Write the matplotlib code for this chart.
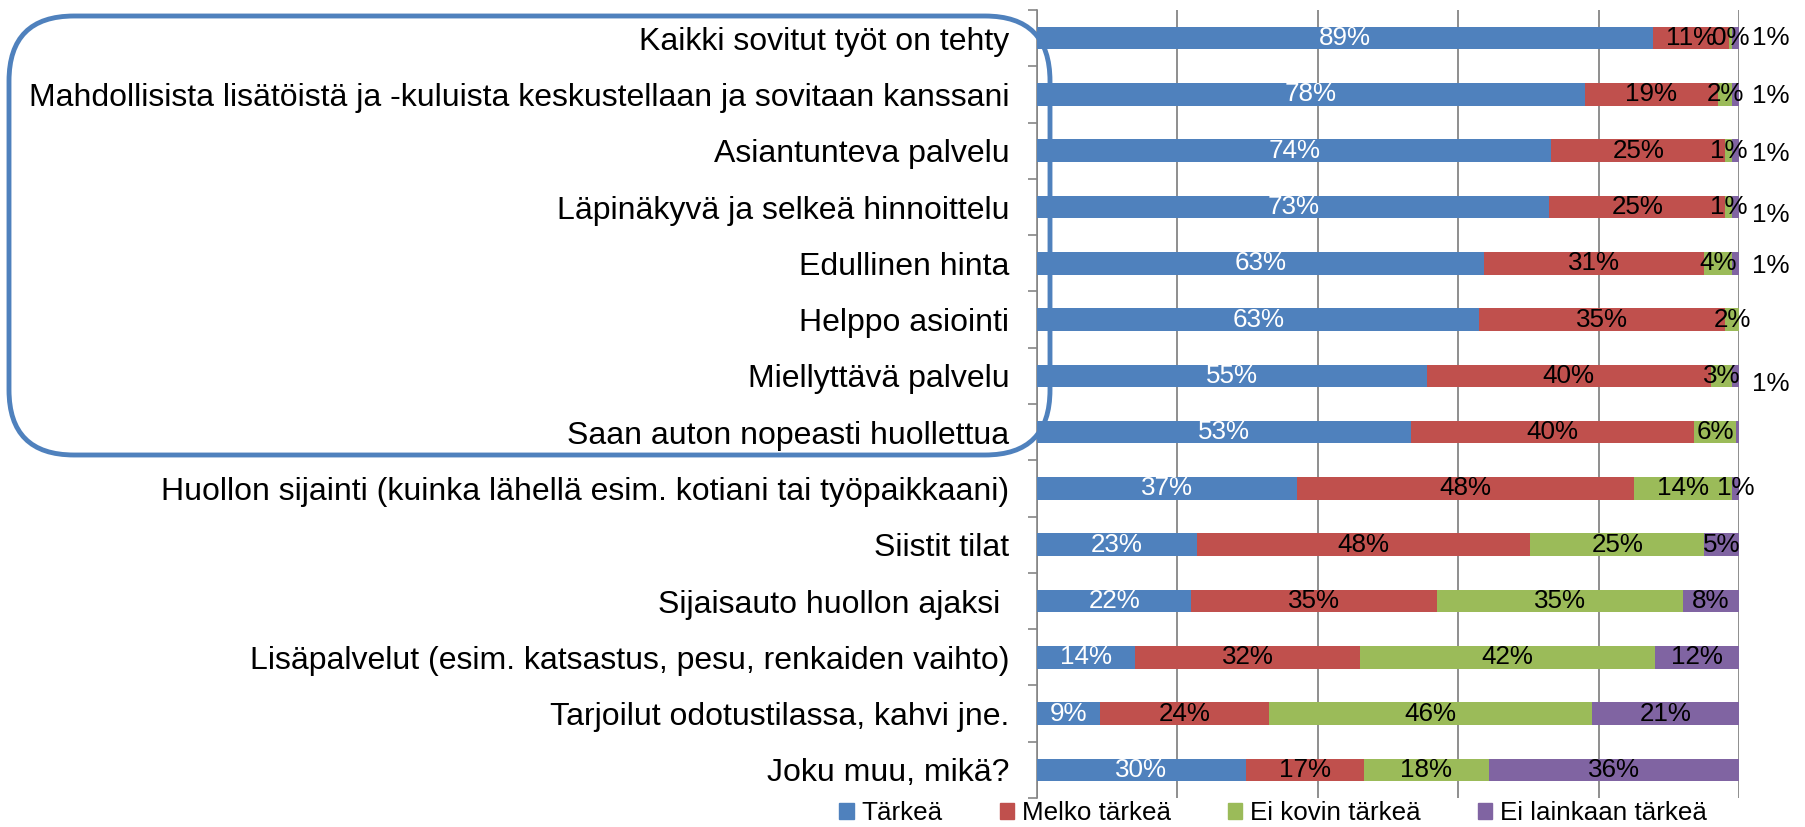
import numpy as np
import matplotlib
matplotlib.use("Agg")
import matplotlib.pyplot as plt
from matplotlib.patches import FancyBboxPatch, Patch

plt.rcParams['font.family'] = ['Liberation Sans', 'DejaVu Sans']

categories = [
    "Kaikki sovitut työt on tehty",
    "Mahdollisista lisätöistä ja -kuluista keskustellaan ja sovitaan kanssani",
    "Asiantunteva palvelu",
    "Läpinäkyvä ja selkeä hinnoittelu",
    "Edullinen hinta",
    "Helppo asiointi",
    "Miellyttävä palvelu",
    "Saan auton nopeasti huollettua",
    "Huollon sijainti (kuinka lähellä esim. kotiani tai työpaikkaani)",
    "Siistit tilat",
    "Sijaisauto huollon ajaksi ",
    "Lisäpalvelut (esim. katsastus, pesu, renkaiden vaihto)",
    "Tarjoilut odotustilassa, kahvi jne.",
    "Joku muu, mikä?",
]
series = ["Tärkeä", "Melko tärkeä", "Ei kovin tärkeä", "Ei lainkaan tärkeä"]
tarkea = [89, 78, 74, 73, 63, 63, 55, 53, 37, 23, 22, 14, 9, 30]
melko = [11, 19, 25, 25, 31, 35, 40, 40, 48, 48, 35, 32, 24, 17]
ei_kovin = [0.4, 2, 1, 1, 4, 2, 3, 6, 14, 25, 35, 42, 46, 18]
ei_lainkaan = [1, 1, 1, 1, 1, 0, 1, 0.4, 1, 5, 8, 12, 21, 36]

colors = ["#4F81BD", "#C0504D", "#9BBB59", "#8064A2"]
# purple labels that were moved outside the bar (row index: y nudge)
outside = {0: 0.0, 1: 0.03, 2: 0.05, 3: 0.15, 4: 0.05, 6: 0.15}
hidden = {(7, 3), (5, 3)}

vals = np.array([tarkea, melko, ei_kovin, ei_lainkaan], dtype=float)
shares = vals / vals.sum(axis=0) * 100
y = np.arange(len(categories))

fig = plt.figure(figsize=(18.06, 8.27), dpi=100)
ax = fig.add_axes([1037/1806, 29/827, 702/1806, 788/827])

left = np.zeros(len(categories))
for i in range(4):
    ax.barh(y, shares[i], left=left, height=0.4, color=colors[i], zorder=2)
    for r in range(len(categories)):
        if (r, i) in hidden:
            continue
        txt = f"{vals[i, r]:.0f}%"
        xc = left[r] + shares[i, r] / 2
        yc = y[r]
        if i == 3 and r in outside:
            xc = 104.5
            yc = y[r] + outside[r]
        ax.text(xc, yc, txt, ha='center', va='center', fontsize=18.7,
                color='white' if i == 0 else 'black', zorder=3)
    left += shares[i]

ax.set_xlim(0, 100)
ax.set_ylim(len(categories) - 0.5, -0.5)
ax.set_xticks(np.arange(0, 101, 20))
ax.tick_params(axis='x', length=0, labelbottom=False)
ax.grid(axis='x', color='#868686', lw=1.3, zorder=0)
ax.set_yticks(y)
ax.set_yticklabels(categories, fontsize=23)
ax.set_yticks(np.arange(-0.5, len(categories)), minor=True)
ax.tick_params(axis='y', which='major', length=0, pad=20)
ax.tick_params(axis='y', which='minor', length=6.5, color='#868686', width=1.2)
for s in ['top', 'right', 'bottom']:
    ax.spines[s].set_visible(False)
ax.spines['left'].set_color('#868686')
ax.spines['left'].set_linewidth(1.2)
ax.spines['left'].set_zorder(1)

handles = [Patch(color=c, label=s) for c, s in zip(colors, series)]
fig.legend(handles=handles, loc='center', bbox_to_anchor=(1273/1806, 14/827),
           ncol=4, frameon=False, fontsize=18.7, handlelength=0.55,
           handleheight=0.55, handletextpad=0.3, columnspacing=2.2)

# highlight box around the top eight items
box = FancyBboxPatch((0.09, 3.72), 10.41, 4.39,
                     boxstyle="round,pad=0,rounding_size=0.65",
                     transform=fig.dpi_scale_trans, fill=False,
                     edgecolor="#4F81BD", lw=3.5, zorder=5)
fig.add_artist(box)

fig.savefig("out.png", dpi=100)
